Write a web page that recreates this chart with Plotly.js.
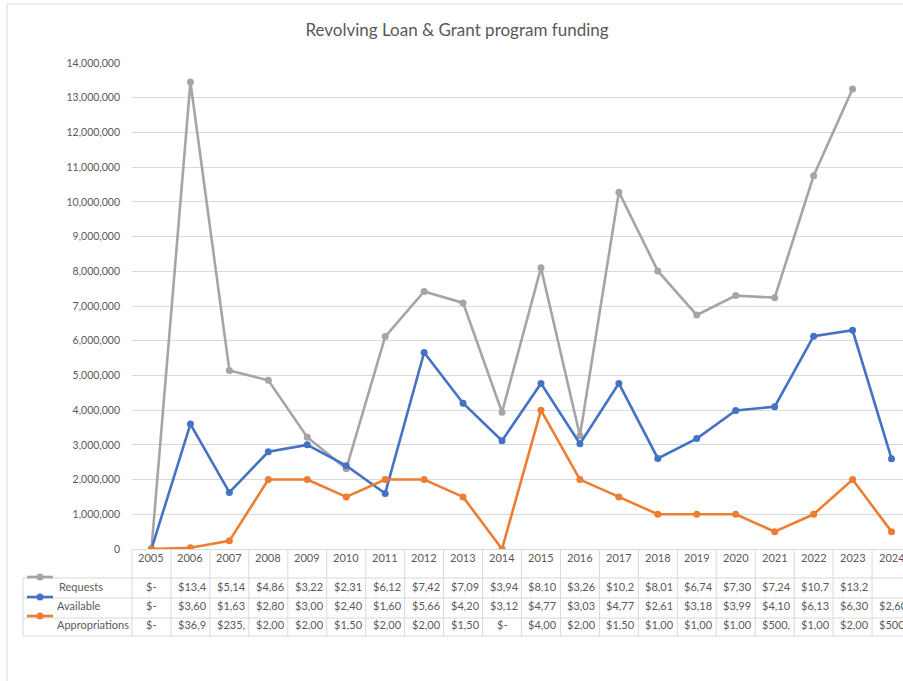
<!DOCTYPE html>
<html>
<head>
<meta charset="utf-8">
<script src="https://cdn.plot.ly/plotly-3.0.1.min.js"></script>
<style>
html, body { margin: 0; padding: 0; overflow: hidden; background: #fff; }
#chart { width: 920px; height: 681px; }
</style>
</head>
<body>
<div id="chart"></div>
<script>
// ---- data ----
const years = [2005, 2006, 2007, 2008, 2009, 2010, 2011, 2012, 2013, 2014,
               2015, 2016, 2017, 2018, 2019, 2020, 2021, 2022, 2023, 2024];
const seriesNames = ["Requests", "Available", "Appropriations"];
const requests = [0, 13450000, 5140000, 4860000, 3220000, 2310000, 6120000, 7420000, 7090000, 3940000,
                  8100000, 3260000, 10280000, 8010000, 6740000, 7300000, 7240000, 10750000, 13250000, null];
const available = [0, 3600000, 1630000, 2800000, 3000000, 2400000, 1600000, 5660000, 4200000, 3120000,
                   4770000, 3030000, 4770000, 2610000, 3180000, 3990000, 4100000, 6130000, 6300000, 2600000];
const appropriations = [0, 36900, 235000, 2000000, 2000000, 1500000, 2000000, 2000000, 1500000, 0,
                        4000000, 2000000, 1500000, 1000000, 1000000, 1000000, 500000, 1000000, 2000000, 500000];
const yTickVals = [0, 1000000, 2000000, 3000000, 4000000, 5000000, 6000000, 7000000,
                   8000000, 9000000, 10000000, 11000000, 12000000, 13000000, 14000000];
const yTickText = ["0", "1,000,000", "2,000,000", "3,000,000", "4,000,000", "5,000,000", "6,000,000",
                   "7,000,000", "8,000,000", "9,000,000", "10,000,000", "11,000,000", "12,000,000",
                   "13,000,000", "14,000,000"];
const titleText = "Revolving Loan & Grant program funding";

// ---- styling / layout ----
const colors = ["#a5a5a5", "#4472c4", "#ed7d31"];
const seriesData = [requests, available, appropriations];
const FONT = "Lato, 'Open Sans', sans-serif";
const TXT = "#595959";
const GRID = "#d9d9d9";
const FS = 11;
const W = 920, H = 681;
const M = { l: 132, r: 9, t: 63, b: 132 };
const PW = W - M.l - M.r, PH = H - M.t - M.b;
const colW = PW / years.length;
const px2x = px => (px - M.l) / PW;
const px2y = py => (H - M.b - py) / PH;

const traces = seriesData.map((vals, i) => ({
  type: "scatter", mode: "lines+markers", name: seriesNames[i],
  x: years, y: vals, connectgaps: false,
  line: { color: colors[i], width: 2.6 },
  marker: { color: colors[i], size: 7 },
  hoverinfo: "skip"
}));

function cellText(v) {
  if (v === null || v === undefined) return "";
  if (v === 0) return "$-";
  return ("$" + v.toLocaleString("en-US")).slice(0, 5);
}

const annotations = [];
const shapes = [];

// chart border
shapes.push({ type: "rect", xref: "paper", yref: "paper",
  x0: px2x(7), x1: px2x(W + 20), y0: px2y(4), y1: px2y(H + 20),
  line: { color: GRID, width: 1 }, fillcolor: "rgba(0,0,0,0)", layer: "below" });

// year header
years.forEach(yr => {
  annotations.push({ x: yr, xref: "x", y: px2y(557), yref: "paper", text: String(yr),
    showarrow: false, xanchor: "center", yanchor: "middle",
    font: { family: FONT, size: FS, color: TXT } });
});

// table grid
const rowLines = [578, 598, 618, 636];
rowLines.forEach(py => {
  shapes.push({ type: "line", xref: "paper", yref: "paper",
    x0: px2x(23), x1: 1, y0: px2y(py), y1: px2y(py), line: { color: GRID, width: 1 } });
});
shapes.push({ type: "line", xref: "paper", yref: "paper",
  x0: px2x(23), x1: px2x(23), y0: px2y(578), y1: px2y(636), line: { color: GRID, width: 1 } });
for (let k = 0; k <= years.length; k++) {
  shapes.push({ type: "line", xref: "paper", yref: "paper",
    x0: k / years.length, x1: k / years.length, y0: 0, y1: px2y(636),
    line: { color: GRID, width: 1 } });
}

// rows: legend key, label, values
const rowTextY = [586, 605, 624];
const keyY = [577, 597, 616];
seriesData.forEach((vals, i) => {
  shapes.push({ type: "line", xref: "paper", yref: "paper",
    x0: px2x(27), x1: px2x(53), y0: px2y(keyY[i]), y1: px2y(keyY[i]),
    line: { color: colors[i], width: 2.6 } });
  shapes.push({ type: "circle", xref: "paper", yref: "paper",
    xsizemode: "pixel", ysizemode: "pixel",
    xanchor: px2x(40), yanchor: px2y(keyY[i]),
    x0: -3.5, x1: 3.5, y0: -3.5, y1: 3.5,
    fillcolor: colors[i], line: { color: colors[i], width: 0 } });
  annotations.push({ x: px2x(i === 0 ? 57 : 55), xref: "paper", y: px2y(rowTextY[i]), yref: "paper",
    text: seriesNames[i], showarrow: false, xanchor: "left", yanchor: "middle",
    font: { family: FONT, size: FS, color: TXT } });
  vals.forEach((v, j) => {
    const t = cellText(v);
    if (!t) return;
    const centered = (v === 0);
    annotations.push({ x: years[j], xref: "x", y: px2y(rowTextY[i]), yref: "paper",
      text: t, showarrow: false,
      xanchor: centered ? "center" : "left",
      xshift: centered ? 0 : -colW / 2 + 5,
      yanchor: "middle",
      font: { family: FONT, size: FS, color: TXT } });
  });
});

const layout = {
  width: W, height: H,
  margin: M,
  paper_bgcolor: "#ffffff", plot_bgcolor: "#ffffff",
  showlegend: false,
  title: { text: titleText, x: 457 / W, xref: "container", xanchor: "center",
    y: 1 - 30 / H, yref: "container", yanchor: "middle",
    font: { family: FONT, size: 17, color: TXT } },
  xaxis: { type: "linear", range: [years[0] - 0.5, years[years.length - 1] + 0.5],
    showgrid: false, zeroline: false, showticklabels: false, ticks: "",
    showline: true, linecolor: GRID, linewidth: 1, fixedrange: true },
  yaxis: { range: [0, 14000000], tickmode: "array", tickvals: yTickVals, ticktext: yTickText,
    showgrid: true, gridcolor: GRID, gridwidth: 1, zeroline: false, showline: false,
    ticks: "", ticklabelstandoff: 11,
    tickfont: { family: FONT, size: 10.5, color: TXT }, fixedrange: true },
  shapes: shapes,
  annotations: annotations
};

Plotly.newPlot("chart", traces, layout, { staticPlot: true, displayModeBar: false });
</script>
</body>
</html>
